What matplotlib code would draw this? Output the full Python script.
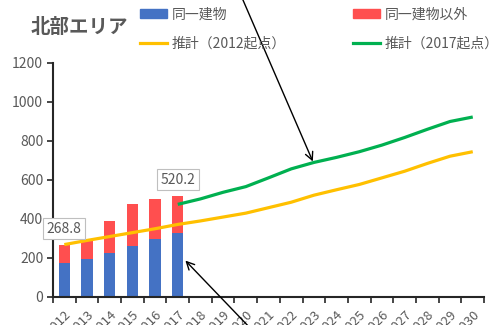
import matplotlib
matplotlib.use("Agg")
import matplotlib.pyplot as plt
from matplotlib.lines import Line2D
from matplotlib.patches import Patch
import numpy as np

plt.rcParams['font.family'] = ['Noto Sans CJK JP', 'DejaVu Sans']

years = [str(y) for y in range(2012, 2031)]
same_building = [175, 197, 226, 259, 299, 328]
other_building = [93.8, 99, 165, 217, 201, 192.2]
actual_years = years[:6]

est_2012 = [268.8, 290, 310, 330, 350, 372, 390, 410, 430, 458, 486, 522,
            550, 577, 611, 645, 685, 722, 745]
est_2017_years = years[5:]
est_2017 = [475, 503, 537, 566, 611, 657, 690, 716, 745, 779, 818, 860, 900, 923]

C_BLUE = '#4472C4'
C_RED = '#FF4F4F'
C_YELLOW = '#FFC000'
C_GREEN = '#00B050'
C_TEXT = '#595959'

fig = plt.figure(figsize=(4.95, 3.25), dpi=100)
ax = fig.add_axes([0.107, 0.0862, 0.871, 0.72])

x_all = np.arange(len(years))
x_act = np.arange(len(actual_years))
x_17 = np.arange(len(years) - len(est_2017_years), len(years))

ax.bar(x_act, same_building, width=0.5, color=C_BLUE, zorder=2)
ax.bar(x_act, other_building, width=0.5, bottom=same_building, color=C_RED, zorder=2)
ax.plot(x_all, est_2012, color=C_YELLOW, lw=2.3, zorder=3, solid_capstyle='butt')
ax.plot(x_17, est_2017, color=C_GREEN, lw=2.3, zorder=3, solid_capstyle='butt')

totals = [a + b for a, b in zip(same_building, other_building)]
for i in (0, len(actual_years) - 1):
    ax.annotate(f"{totals[i]:.1f}", xy=(x_act[i], totals[i]), xytext=(0, 16),
                textcoords='offset pixels', ha='center', va='center',
                fontsize=10, color=C_TEXT, zorder=5,
                bbox=dict(boxstyle='square,pad=0.25', fc='white', ec='#BFBFBF', lw=0.8))

ax.set_xlim(-0.5, len(years) - 0.5)
ax.set_ylim(0, 1200)
ax.set_yticks(range(0, 1201, 200))
ax.set_xticks(x_all)
ax.set_xticklabels(years, rotation=45, ha='right', va='top', rotation_mode='anchor')
ax.set_xticks(np.arange(-0.5, len(years), 1), minor=True)
ax.tick_params(axis='x', which='major', length=0, pad=8, labelsize=9.5, labelcolor=C_TEXT)
ax.tick_params(axis='x', which='minor', length=4, width=1.2, color='#262626', direction='out')
ax.tick_params(axis='y', length=4, width=1.2, color='#262626', pad=3, labelsize=10,
               labelcolor=C_TEXT)
for s in ('top', 'right'):
    ax.spines[s].set_visible(False)
for s in ('left', 'bottom'):
    ax.spines[s].set_linewidth(1.5)
    ax.spines[s].set_color('#262626')

fig.text(0.061, 0.915, "北部エリア", fontsize=14, fontweight='bold', color=C_TEXT,
         ha='left', va='center')

handles = [Patch(color=C_BLUE), Line2D([], [], color=C_YELLOW, lw=2.3),
           Patch(color=C_RED), Line2D([], [], color=C_GREEN, lw=2.3)]
labels = ["同一建物", "推計（2012起点）", "同一建物以外", "推計（2017起点）"]
leg = fig.legend(handles, labels, ncol=2, loc='upper left', bbox_to_anchor=(0.257, 1.015),
                 frameon=False, fontsize=10, handlelength=1.95, handleheight=0.58,
                 handletextpad=0.36, columnspacing=4.8, labelspacing=1.08)
for t in leg.get_texts():
    t.set_color(C_TEXT)

# callout arrows pointing at the 2017-based estimate and the 2017 bar
ax.annotate("", xy=(11, 682), xytext=(0.488, 1.01), textcoords='figure fraction',
            arrowprops=dict(arrowstyle='->', color='black', lw=1.0, mutation_scale=14),
            annotation_clip=False, zorder=6)
ax.annotate("", xy=(5.25, 197), xytext=(0.507, -0.012), textcoords='figure fraction',
            arrowprops=dict(arrowstyle='->', color='black', lw=1.0, mutation_scale=14),
            annotation_clip=False, zorder=6)

fig.savefig("out.png", dpi=100)
